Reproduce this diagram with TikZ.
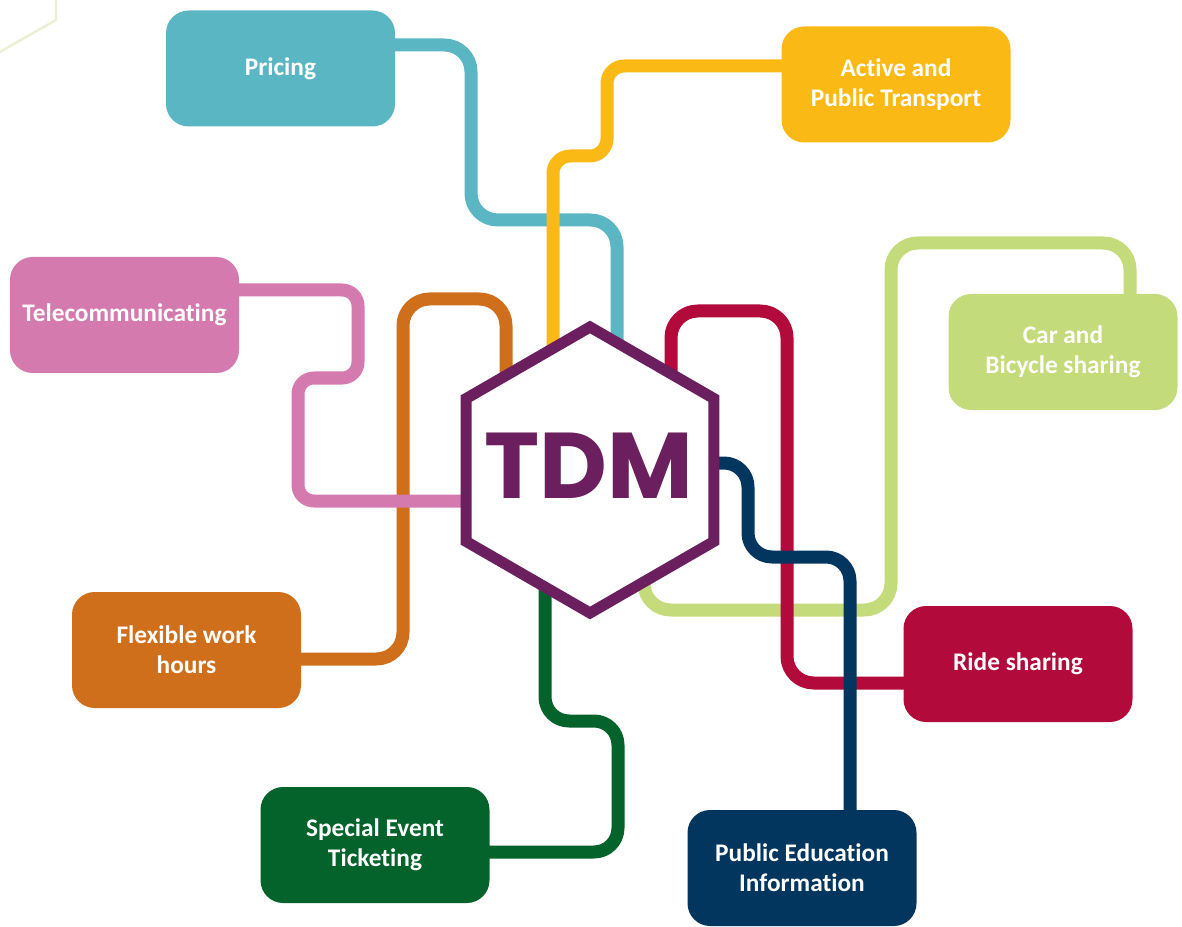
\documentclass[tikz,border=0pt]{standalone}
\usepackage{fontspec}
\newfontfamily\boxfont{Carlito}[Ligatures={NoCommon,TeX}]
\newfontfamily\tdmfont{Poppins}
\pgfdeclarelayer{bg}
\pgfdeclarelayer{hex}
\pgfsetlayers{bg,hex,main}
\definecolor{cTeal}{HTML}{5BB6C4}
\definecolor{cYellow}{HTML}{FBB916}
\definecolor{cPink}{HTML}{D47AAE}
\definecolor{cOrange}{HTML}{CF6F1C}
\definecolor{cGreen}{HTML}{03632A}
\definecolor{cCrimson}{HTML}{B20A3A}
\definecolor{cLime}{HTML}{C3DB7A}
\definecolor{cNavy}{HTML}{02365F}
\definecolor{cPurple}{HTML}{6B1F5F}
\definecolor{cDeco}{HTML}{EAF0D2}
\begin{document}
\begin{tikzpicture}[x=0.75pt,y=-0.75pt,
  box/.style={rounded corners=17pt, minimum width=171.75pt, minimum height=87pt,
    inner sep=2pt, align=center, text=white,
    font=\boxfont\bfseries\fontsize{19}{22.5}\selectfont},
  link/.style={line width=9.75pt, line cap=butt, line join=round, rounded corners=20pt},
  hexline/.style={line width=8.25pt, draw=cPurple, fill=white, line join=miter},
  deco/.style={draw=cDeco, line width=1.8pt}]
\useasboundingbox (0,0) rectangle (1182,927);
\draw[deco] (56,-2) -- (56,20) -- (-2,53);

% boxes
\node[box, fill=cTeal] (pricing) at (280.5,68.5) {Pricing};
\node[box, fill=cYellow] (active) at (896,84.5) {Active and\\Public Transport};
\node[box, fill=cPink] (tele) at (124.5,315) {Telecommunicating};
\node[box, fill=cLime] (car) at (1063,352) {Car and\\Bicycle sharing};
\node[box, fill=cOrange] (flex) at (186.5,650) {Flexible work\\hours};
\node[box, fill=cCrimson] (ride) at (1018,664) {Ride sharing};
\node[box, fill=cGreen] (special) at (375,845) {Special Event\\Ticketing};
\node[box, fill=cNavy] (pub) at (802,868) {Public Education\\Information};

% centre
\node[text=cPurple, inner sep=0pt, font=\tdmfont\bfseries\fontsize{70}{70}\selectfont] (tdm) at (589,466) {TDM};
\begin{pgfonlayer}{hex}
\draw[hexline] (713.8,398.5) -- (590,327) -- (466.2,398.5) -- (466.2,541.5) -- (590,613) -- (713.8,541.5) -- cycle;
\end{pgfonlayer}

% connectors
\begin{pgfonlayer}{bg}
\draw[link, cTeal] (pricing.center |- 0,45) -- (471,45) -- (471,220) -- (617,220) -- (tdm.center -| 617,0);
\draw[link, cYellow, rounded corners=13pt] (active.center |- 0,66) -- (607,66) -- (607,156) -- (553,156) -- (tdm.center -| 553,0);
\draw[link, cLime] (car.center -| 1130,0) -- (1130,243) -- (891,243) -- (891,610) -- (644,610) -- (tdm.center -| 644,0);
\draw[link, cCrimson] (ride.center |- 0,683) -- (787,683) -- (787,311) -- (671,311) -- (tdm.center -| 671,0);
\draw[link, cOrange] (flex.center |- 0,659) -- (403,659) -- (403,299) -- (506,299) -- (tdm.center -| 506,0);
\draw[link, cPink, rounded corners=12pt] (tele.center |- 0,290) -- (358,290) -- (358,378) -- (298,378) -- (298,501) -- (tdm.center |- 0,501);
\draw[link, cGreen, rounded corners=18pt] (special.center |- 0,852) -- (618,852) -- (618,721) -- (545,721) -- (tdm.center -| 545,0);
\draw[link, cNavy, rounded corners=18pt] (pub.center -| 850,0) -- (850,557) -- (748,557) -- (748,463) -- (tdm.center |- 0,463);
\end{pgfonlayer}
\end{tikzpicture}
\end{document}
